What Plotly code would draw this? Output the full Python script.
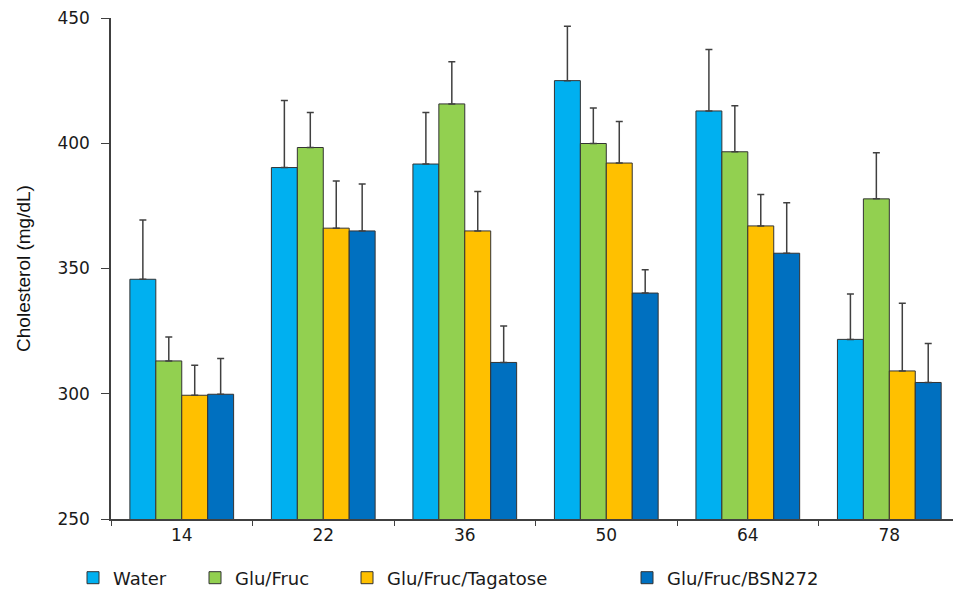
import plotly.graph_objects as go

days = ["14", "22", "36", "50", "64", "78"]

water = [345.7, 390.3, 391.7, 425.0, 412.9, 321.7]
water_err = [23.7, 26.8, 20.6, 21.7, 24.5, 18.1]
glu_fruc = [313.1, 398.3, 415.7, 399.9, 396.6, 377.8]
glu_fruc_err = [9.6, 14.0, 16.8, 14.2, 18.4, 18.4]
tagatose = [299.4, 366.1, 365.0, 392.1, 367.0, 309.1]
tagatose_err = [12.0, 18.8, 15.7, 16.6, 12.5, 27.0]
bsn272 = [299.8, 365.0, 312.5, 340.2, 356.1, 304.5]
bsn272_err = [14.3, 18.7, 14.5, 9.3, 20.1, 15.6]

series = [
    ("Water", water, water_err, "#00B0F0", "legend", 113),
    ("Glu/Fruc", glu_fruc, glu_fruc_err, "#92D050", "legend2", 235),
    ("Glu/Fruc/Tagatose", tagatose, tagatose_err, "#FFC000", "legend3", 387),
    ("Glu/Fruc/BSN272", bsn272, bsn272_err, "#0070C0", "legend4", 667),
]

W, H = 953, 589
axis_col = "#404040"
font_main = "DejaVu Sans, Arial, sans-serif"

fig = go.Figure()
legends = {}
for name, vals, errs, col, lg, text_x in series:
    fig.add_trace(go.Bar(
        x=days, y=vals, name=name, legend=lg, showlegend=True,
        marker=dict(color=col, line=dict(color="#333333", width=1)),
        error_y=dict(type="data", symmetric=False, array=errs,
                     arrayminus=[0] * len(errs),
                     color=axis_col, thickness=1.5, width=3.5),
    ))
    # one legend per series so each entry sits where the reference has it
    legends[lg] = dict(
        orientation="h", xref="container", yref="container",
        x=(text_x - 40) / W, xanchor="left",
        y=1 - 578 / H, yanchor="middle",
        font=dict(family=font_main, size=18, color="#1a1a1a"),
        bgcolor="rgba(0,0,0,0)", borderwidth=0,
    )

fig.update_layout(
    width=W, height=H,
    margin=dict(l=111, r=0, t=18, b=70, autoexpand=False),
    plot_bgcolor="white", paper_bgcolor="white",
    barmode="group", bargap=0.267, bargroupgap=0,
    showlegend=True,
    **legends,
)

fig.update_xaxes(
    type="category", range=[-0.5, 5.45],
    showline=True, linecolor=axis_col, linewidth=1.5,
    ticks="outside", tickson="boundaries", ticklen=5, tickcolor=axis_col,
    tickfont=dict(family=font_main, size=17, color="#1a1a1a"),
    showgrid=False, zeroline=False,
)
fig.update_yaxes(
    range=[250, 450], dtick=50,
    showline=True, linecolor=axis_col, linewidth=1.5,
    ticks="outside", ticklen=8, tickcolor=axis_col,
    tickfont=dict(family=font_main, size=17, color="#1a1a1a"),
    ticklabelstandoff=8,
    showgrid=False, zeroline=False,
    title=dict(text="Cholesterol (mg/dL)", standoff=22,
               font=dict(family="Arial, Liberation Sans, sans-serif", size=19, color="#111111")),
)

# drop the browser's default page margin so the figure fills the window
fig.write_html("out.html", config={"displayModeBar": False},
               post_script="document.body.style.margin='0';")
